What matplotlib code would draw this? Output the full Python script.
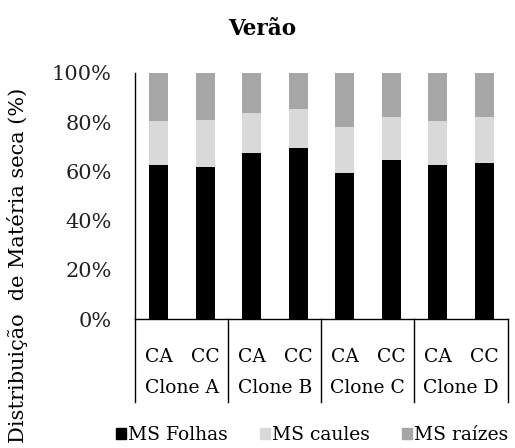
import matplotlib
matplotlib.use("Agg")
import matplotlib.pyplot as plt
from matplotlib.patches import Patch
from matplotlib.ticker import PercentFormatter

clones = ["Clone A", "Clone B", "Clone C", "Clone D"]
treatments = ["CA", "CC"]
folhas = [62.4, 61.6, 67.3, 69.5, 59.5, 64.6, 62.4, 63.3]
caules = [17.9, 19.2, 16.5, 15.7, 18.6, 17.6, 17.9, 18.9]
raizes = [19.7, 19.2, 16.2, 14.8, 21.9, 17.8, 19.7, 17.8]
series_names = ["MS Folhas", "MS caules", "MS raízes"]
colors = ["#000000", "#d9d9d9", "#a6a6a6"]

plt.rcParams['font.family'] = ['DejaVu Serif']

W, H = 515, 448
fig = plt.figure(figsize=(W/100, H/100), dpi=100)
x0, x1, ytop, ybot = 135.3, 507.5, 72.7, 319.3
ax = fig.add_axes([x0/W, (H-ybot)/H, (x1-x0)/W, (ybot-ytop)/H])

xs = list(range(len(folhas)))
bottom = [0]*len(xs)
for vals, c, name in zip([folhas, caules, raizes], colors, series_names):
    ax.bar(xs, vals, width=0.41, bottom=bottom, color=c, label=name)
    bottom = [b+v for b, v in zip(bottom, vals)]

ax.set_xlim(-0.5, len(xs)-0.5)
ax.set_ylim(0, 100)
ax.set_yticks([0, 20, 40, 60, 80, 100])
ax.yaxis.set_major_formatter(PercentFormatter(decimals=0))
ax.tick_params(axis='y', length=0, labelsize=15, pad=17, labelcolor='#222222')
ax.set_xticks([])
for s in ['top', 'right']:
    ax.spines[s].set_visible(False)
for s in ['left', 'bottom']:
    ax.spines[s].set_linewidth(1.0)

trans = ax.get_xaxis_transform()
hgt = ybot - ytop
depth = (401.7 - ybot) / hgt
for g in range(len(clones)+1):
    xb = -0.5 + 2*g
    ax.plot([xb, xb], [0, -depth], color='black', lw=1.0, transform=trans, clip_on=False)
for i, x in enumerate(xs):
    ax.text(x, -(357-ybot)/hgt, treatments[i % 2], transform=trans,
            ha='center', va='center', fontsize=13.5)
for g, name in enumerate(clones):
    ax.text(2*g+0.5, -(388-ybot)/hgt, name, transform=trans,
            ha='center', va='center', fontsize=13.5)

fig.text(18/W, 1-265/H, "Distribuição  de Matéria seca (%)", rotation=90,
         ha='center', va='center', fontsize=15)

fig.text(262/W, 1-29/H, "Verão", ha='center', va='center', fontsize=15.5, fontweight='bold')

handles = [Patch(color=c, label=n) for c, n in zip(colors, series_names)]
fig.legend(handles=handles, loc='center', bbox_to_anchor=(312/W, 1-435/H), ncol=3,
           frameon=False, fontsize=13.5, handlelength=0.55, handleheight=0.55,
           handletextpad=0.1, columnspacing=1.7, borderpad=0, borderaxespad=0)

fig.savefig("out.png", dpi=100)
